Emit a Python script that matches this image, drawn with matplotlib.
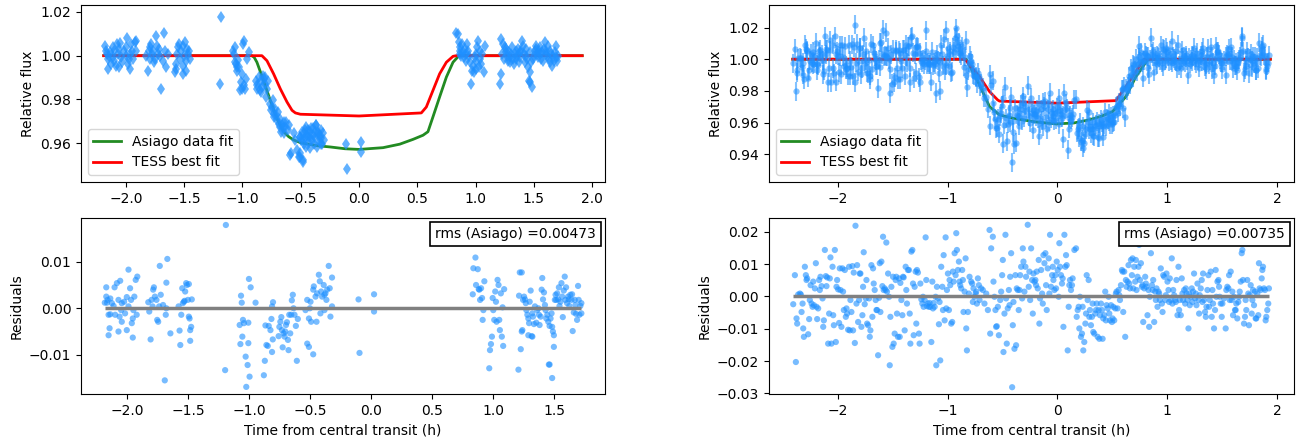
import matplotlib
matplotlib.use("Agg")

import matplotlib.pyplot as plt
import numpy as np
from matplotlib.offsetbox import AnchoredText

BLUE = "dodgerblue"
GREEN = "forestgreen"
XLABEL = "Time from central transit (h)"

# ---- left night: flux (diamonds) ----
T_FLUX_L = [
    -2.175, -2.170, -2.164, -2.155, -2.155, -2.141, -2.126, -2.112, -2.098, -2.083,
    -2.078, -2.069, -2.060, -2.049, -2.040, -2.032, -2.020, -2.003, -1.991, -1.983,
    -1.968, -1.963, -1.954, -1.940, -1.925, -1.917, -1.911, -1.997, -2.055, -2.112,
    -2.132, -2.098, -1.974, -1.945,
    -1.825, -1.810, -1.802, -1.790, -1.782, -1.773, -1.761, -1.753, -1.739, -1.733,
    -1.716, -1.710, -1.695, -1.681, -1.672, -1.667, -1.652, -1.638, -1.767, -1.727,
    -1.796,
    -1.580, -1.572, -1.560, -1.552, -1.543, -1.537, -1.523, -1.514, -1.509, -1.503,
    -1.494, -1.486, -1.480, -1.474, -1.466, -1.457, -1.451, -1.514, -1.566,
    -1.187, -1.193,
    -1.078, -1.069, -1.063, -1.055, -1.049, -1.043, -1.034, -1.026, -1.020, -1.014,
    -1.006, -0.997, -0.991, -0.986, -0.977, -0.968, -0.963, -0.940, -1.063, -1.006,
    -0.882, -0.876, -0.871, -0.862, -0.853, -0.848, -0.842, -0.833, -0.825, -0.819,
    -0.810, -0.805, -0.796, -0.790, -0.782, -0.761, -0.756, -0.747, -0.739, -0.733,
    -0.727, -0.718, -0.710, -0.704, -0.695, -0.690, -0.681, -0.675, -0.670, -0.661,
    -0.652, -0.647, -0.641, -0.632, -0.624, -0.612, -0.603, -0.595, -0.583, -0.560,
    -0.546, -0.532, -0.517, -0.509,
    -0.503, -0.489, -0.480, -0.474, -0.468, -0.460, -0.451, -0.445, -0.440, -0.431,
    -0.422, -0.417, -0.411, -0.402, -0.394, -0.388, -0.382, -0.374, -0.365, -0.359,
    -0.353, -0.345, -0.336, -0.330, -0.325, -0.316, -0.307, -0.302, -0.480, -0.509,
    -0.494, -0.466, -0.451, -0.437, -0.423, -0.394, -0.366, -0.351, -0.337, -0.323,
    -0.480, -0.509,
    -0.109, -0.103, 0.020, 0.020,
    0.834, 0.849, 0.857, 0.863, 0.869, 0.877, 0.886, 0.891, 0.897, 0.906,
    0.914, 0.920, 0.926, 0.934, 0.943, 0.949, 0.963, 0.971, 0.977, 0.983,
    0.991, 1.000, 1.006, 1.014, 1.020, 1.029, 1.034, 1.040, 1.049, 1.057,
    1.069, 1.077, 0.863, 1.000,
    1.206, 1.214, 1.220, 1.229, 1.234, 1.240, 1.249, 1.257, 1.263, 1.269,
    1.277, 1.286, 1.291, 1.297, 1.306, 1.314, 1.320, 1.326, 1.334, 1.343,
    1.349, 1.354, 1.363, 1.371, 1.377, 1.383, 1.391, 1.400, 1.406, 1.411,
    1.420, 1.429, 1.434, 1.440, 1.449, 1.457, 1.463, 1.469, 1.477, 1.486,
    1.491, 1.497, 1.506, 1.514, 1.520, 1.526, 1.534, 1.543, 1.549, 1.554,
    1.563, 1.571, 1.577, 1.583, 1.591, 1.600, 1.606, 1.611, 1.620, 1.629,
    1.634, 1.640, 1.649, 1.657, 1.663, 1.669, 1.677, 1.686, 1.691, 1.697,
    1.706, 1.463,
]
FLUX_L = [
    1.0045, 1.0023, 1.0008, 0.9985, 0.9939, 1.0000, 0.9962, 1.0038, 0.9977, 0.9955,
    1.0053, 1.0008, 0.9947, 1.0056, 0.9992, 0.9970, 1.0023, 1.0000, 1.0083, 0.9962,
    0.9939, 1.0008, 1.0053, 0.9985, 1.0061, 1.0023, 1.0068, 1.0038, 1.0030, 0.9992,
    1.0015, 1.0023, 0.9985, 1.0023,
    1.0000, 0.9932, 1.0023, 1.0038, 1.0053, 1.0008, 0.9970, 0.9985, 1.0091, 1.0045,
    1.0030, 1.0000, 0.9848, 0.9977, 1.0106, 1.0023, 0.9947, 1.0008, 1.0023, 1.0008,
    0.9985,
    0.9924, 0.9939, 1.0008, 1.0038, 1.0053, 0.9985, 1.0023, 0.9955, 1.0045, 1.0000,
    1.0061, 0.9977, 0.9932, 1.0030, 1.0008, 1.0023, 0.9985, 0.9917, 0.9962,
    1.0177, 0.9871,
    1.0023, 1.0008, 0.9970, 0.9962, 0.9947, 0.9932, 0.9980, 0.9947, 0.9841, 0.9879,
    0.9848, 1.0053, 1.0068, 0.9864, 0.9848, 0.9894, 0.9985, 1.0015, 1.0038, 0.9917,
    0.9886, 0.9848, 0.9864, 0.9902, 0.9841, 0.9879, 0.9833, 0.9856, 0.9909, 0.9894,
    0.9871, 0.9902, 0.9811, 0.9848, 0.9886, 0.9780, 0.9750, 0.9765, 0.9795, 0.9735,
    0.9720, 0.9758, 0.9727, 0.9705, 0.9742, 0.9689, 0.9674, 0.9712, 0.9652, 0.9682,
    0.9667, 0.9697, 0.9644, 0.9674, 0.9697, 0.9659, 0.9682, 0.9545, 0.9553, 0.9644,
    0.9614, 0.9568, 0.9538, 0.9629,
    0.9629, 0.9652, 0.9614, 0.9598, 0.9644, 0.9621, 0.9583, 0.9636, 0.9659, 0.9606,
    0.9629, 0.9576, 0.9667, 0.9614, 0.9636, 0.9598, 0.9652, 0.9621, 0.9682, 0.9583,
    0.9644, 0.9629, 0.9606, 0.9659, 0.9621, 0.9598, 0.9644, 0.9614, 0.9515, 0.9538,
    0.9614, 0.9659, 0.9674, 0.9629, 0.9652, 0.9667, 0.9682, 0.9652, 0.9636, 0.9598,
    0.9523, 0.9553,
    0.9595, 0.9480, 0.9606, 0.9561,
    1.0106, 1.0098, 1.0061, 1.0038, 1.0023, 1.0000, 1.0053, 1.0015, 0.9992, 1.0030,
    0.9977, 1.0008, 1.0053, 1.0023, 1.0000, 0.9970, 0.9871, 0.9932, 0.9955, 0.9924,
    0.9992, 0.9977, 1.0008, 1.0038, 1.0068, 0.9947, 0.9985, 1.0023, 0.9962, 1.0008,
    0.9924, 1.0045, 1.0008, 0.9939,
    0.9871, 0.9917, 1.0076, 1.0008, 1.0053, 0.9985, 1.0038, 1.0015, 1.0030, 1.0000,
    0.9977, 1.0015, 0.9992, 0.9970, 1.0008, 1.0038, 0.9985, 0.9962, 1.0008, 1.0023,
    0.9985, 1.0000, 1.0030, 0.9970, 0.9992, 1.0015, 1.0023, 1.0068, 1.0045, 1.0008,
    0.9970, 1.0000, 1.0030, 0.9985, 0.9947, 0.9886, 0.9924, 1.0015, 0.9970, 0.9856,
    0.9985, 1.0000, 1.0023, 1.0030, 1.0045, 1.0008, 0.9992, 1.0023, 1.0038, 1.0008,
    0.9985, 1.0015, 0.9977, 1.0030, 1.0061, 1.0008, 1.0023, 1.0000, 1.0045, 0.9985,
    0.9970, 1.0023, 1.0008, 0.9955, 1.0000, 0.9977, 1.0015, 0.9992, 1.0045, 0.9977,
    1.0000, 0.9879,
]

# ---- left night: residuals ----
T_RES_L = [
    -2.168, -2.168, -2.157, -2.162, -2.135, -2.149, -2.135, -2.149, -2.141, -2.122,
    -2.108, -2.100, -2.081, -2.068, -2.054, -2.059, -2.041, -2.046, -2.041, -2.022,
    -2.000, -1.986, -1.973, -1.965, -1.951, -1.959, -1.946, -1.938, -1.927, -1.914,
    -1.919, -1.951, -2.000, -2.068, -2.095, -2.014, -1.986, -2.180,
    -1.824, -1.816, -1.805, -1.797, -1.784, -1.778, -1.770, -1.757, -1.751, -1.743,
    -1.730, -1.722, -1.703, -1.681, -1.676, -1.668, -1.676, -1.643, -1.735, -1.789,
    -1.689,
    -1.576, -1.568, -1.562, -1.554, -1.546, -1.541, -1.532, -1.522, -1.514, -1.508,
    -1.500, -1.492, -1.486, -1.481, -1.481, -1.473, -1.468, -1.492, -1.527,
    -1.189, -1.195,
    -1.076, -1.070, -1.065, -1.059, -1.054, -1.049, -1.041, -1.027, -1.022, -1.011,
    -1.005, -1.000, -0.995, -1.005, -0.986, -0.946,
    -0.878, -0.870, -0.865, -0.857, -0.846, -0.838, -0.824, -0.816, -0.811, -0.805,
    -0.803, -0.811, -0.757, -0.751, -0.743, -0.735, -0.730, -0.724, -0.716, -0.708,
    -0.703, -0.697, -0.689, -0.681, -0.676, -0.670, -0.662, -0.654, -0.649, -0.641,
    -0.635, -0.627, -0.616, -0.608, -0.600,
    -0.537, -0.523, -0.509, -0.501, -0.496, -0.491, -0.474, -0.469, -0.455, -0.447,
    -0.442, -0.428, -0.420, -0.409, -0.401, -0.388, -0.382, -0.374, -0.366, -0.360,
    -0.347, -0.339, -0.333, -0.320, -0.320, -0.474, -0.523, -0.509, -0.415, -0.382,
    -0.103, -0.095, 0.024, 0.024,
    0.832, 0.837, 0.854, 0.873, 0.859, 0.881, 0.886, 0.900, 0.908, 0.919,
    0.913, 0.927, 0.892, 0.967, 0.973, 0.981, 0.989, 0.995, 1.000, 1.008,
    1.016, 1.022, 1.035, 1.043, 1.049, 1.054, 1.062, 1.070, 1.076, 1.081,
    1.089, 1.027,
    1.206, 1.211, 1.217, 1.225, 1.233, 1.233, 1.238, 1.244, 1.252, 1.260,
    1.266, 1.271, 1.279, 1.287, 1.293, 1.298, 1.306, 1.314, 1.320, 1.325,
    1.333, 1.341, 1.352, 1.360, 1.369, 1.374, 1.379, 1.388, 1.396, 1.401,
    1.407, 1.415, 1.423, 1.428, 1.434, 1.442, 1.450, 1.455, 1.461, 1.469,
    1.477, 1.482, 1.488, 1.496, 1.496, 1.504, 1.510, 1.515, 1.523, 1.531,
    1.537, 1.542, 1.550, 1.558, 1.564, 1.569, 1.577, 1.585, 1.591, 1.596,
    1.604, 1.612, 1.618, 1.623, 1.631, 1.640, 1.645, 1.650, 1.659, 1.667,
    1.672, 1.678, 1.686, 1.694, 1.699, 1.705, 1.713, 1.482, 1.461, 1.287,
    1.320, 1.721, 1.721,
]
RES_L = [
    0.0045, 0.0025, 0.0018, 0.0012, 0.0021, -0.0014, -0.0013, -0.0058, -0.0043, 0.0011,
    0.0005, 0.0045, 0.0054, 0.0018, 0.0059, -0.0018, -0.0029, -0.0004, 0.0011, 0.0014,
    0.0024, 0.0083, 0.0043, 0.0018, -0.0022, -0.0032, -0.0004, 0.0025, 0.0061, 0.0068,
    -0.0014, -0.0063, -0.0047, -0.0050, -0.0014, -0.0011, 0.0004, 0.0012,
    0.0013, -0.0007, -0.0067, 0.0018, 0.0040, 0.0045, 0.0025, 0.0018, -0.0025, -0.0029,
    0.0091, 0.0029, 0.0007, -0.0014, 0.0055, 0.0106, 0.0000, -0.0054, 0.0004, 0.0004,
    -0.0155,
    0.0004, -0.0048, -0.0079, -0.0014, 0.0043, 0.0011, 0.0014, 0.0036, 0.0054, 0.0050,
    0.0018, -0.0018, -0.0022, -0.0047, -0.0070, -0.0040, 0.0019, 0.0052, 0.0016,
    0.0179, -0.0133,
    -0.0036, -0.0077, 0.0027, 0.0012, -0.0061, -0.0025, -0.0032, -0.0104, -0.0169, -0.0122,
    -0.0075, 0.0063, -0.0147, -0.0031, 0.0045, 0.0012,
    -0.0144, -0.0113, -0.0037, -0.0079, -0.0081, -0.0038, -0.0047, -0.0023, 0.0004, -0.0067,
    0.0013, -0.0094, -0.0060, -0.0040, -0.0029, -0.0019, -0.0047, -0.0084, -0.0054, -0.0061,
    -0.0050, -0.0036, -0.0030, -0.0068, -0.0090, -0.0014, -0.0054, -0.0014, 0.0017, 0.0029,
    0.0000, -0.0014, -0.0038, -0.0113, -0.0023,
    -0.0004, 0.0018, -0.0022, 0.0000, 0.0014, -0.0029, 0.0040, 0.0047, 0.0025, -0.0029,
    0.0032, 0.0072, 0.0058, 0.0036, 0.0025, 0.0050, 0.0029, 0.0032, 0.0018, 0.0040,
    0.0091, 0.0043, -0.0018, 0.0066, 0.0004, -0.0099, -0.0076, -0.0083, -0.0011, -0.0004,
    0.0019, -0.0096, 0.0030, -0.0007,
    0.0030, 0.0086, 0.0109, 0.0084, 0.0050, 0.0041, 0.0040, 0.0043, 0.0022, -0.0004,
    -0.0025, 0.0058, 0.0018, -0.0129, -0.0090, -0.0077, -0.0061, 0.0022, -0.0004, -0.0025,
    0.0036, 0.0014, 0.0061, 0.0050, -0.0025, -0.0047, 0.0032, -0.0061, 0.0002, -0.0081,
    0.0041, -0.0029,
    -0.0132, 0.0027, 0.0077, -0.0088, 0.0077, -0.0050, -0.0047, 0.0018, 0.0025, 0.0019,
    0.0011, -0.0004, -0.0014, -0.0022, -0.0032, 0.0014, 0.0038, -0.0060, -0.0011, -0.0018,
    -0.0034, 0.0004, -0.0031, -0.0004, 0.0000, -0.0014, -0.0036, -0.0018, 0.0040, 0.0065,
    0.0019, 0.0034, 0.0007, -0.0004, -0.0022, -0.0014, -0.0029, -0.0121, -0.0038, -0.0022,
    -0.0011, -0.0040, -0.0050, -0.0058, -0.0083, 0.0018, 0.0029, 0.0018, 0.0032, 0.0019,
    0.0045, 0.0005, 0.0014, 0.0054, 0.0025, -0.0019, 0.0038, 0.0068, 0.0018, 0.0045,
    0.0011, 0.0025, 0.0019, 0.0005, 0.0029, 0.0018, 0.0030, -0.0049, -0.0009, 0.0018,
    0.0007, -0.0012, -0.0025, 0.0048, 0.0018, -0.0014, 0.0005, -0.0150, -0.0121, -0.0058,
    -0.0061, -0.0011, 0.0011,
]

# ---- left night: model curves ----
T_GREEN_L = [-2.19, -0.92, -0.90, -0.876, -0.819, -0.761, -0.704, -0.647, -0.603, -0.560,
             -0.503, -0.359, -0.244, -0.12, 0.0, 0.206, 0.349, 0.463, 0.549, 0.591,
             0.634, 0.691, 0.749, 0.806, 0.857, 1.914]
GREEN_L = [1.0, 1.0, 0.9993, 0.9970, 0.9886, 0.9795, 0.9712, 0.9652, 0.9629, 0.9614,
           0.9602, 0.9588, 0.9582, 0.9574, 0.9571, 0.9579, 0.9595, 0.9617, 0.9636, 0.9652,
           0.9720, 0.9811, 0.9902, 0.9970, 1.0, 1.0]
T_RED_L = [-2.19, -0.833, -0.79, -0.733, -0.675, -0.618, -0.575, -0.546, -0.503, 0.0,
           0.534, 0.577, 0.634, 0.691, 0.749, 0.806, 0.834, 1.914]
RED_L = [1.0, 1.0, 0.9977, 0.9917, 0.9848, 0.9788, 0.9750, 0.9738, 0.9732, 0.9724,
         0.9738, 0.9765, 0.9841, 0.9917, 0.9970, 0.9997, 1.0, 1.0]
RMS_L = "0.00473"

# ---- right night: times, residuals, flux ----
T_R = [
    -2.406, -2.391, -2.382, -2.376, -2.370, -2.361, -2.345, -2.336, -2.330, -2.321,
    -2.315, -2.309, -2.300, -2.291, -2.285, -2.279, -2.270, -2.261, -2.255, -2.248,
    -2.239, -2.230, -2.224, -2.218, -2.209, -2.200, -2.194, -2.188, -2.179, -2.170,
    -2.164, -2.158, -2.148, -2.139, -2.133, -2.127, -2.118, -2.109, -2.103, -2.097,
    -2.088, -2.079, -2.073, -2.067, -2.058, -2.048, -2.042, -2.036, -2.027, -2.018,
    -2.012, -2.006, -1.997, -1.988, -1.982, -1.976, -1.967, -1.958, -1.952, -1.945,
    -1.936, -1.927, -1.921, -1.915, -1.906, -1.897, -1.891, -1.885, -1.876, -1.867,
    -1.861, -1.855, -1.845, -1.839, -1.830, -1.824, -1.815, -1.806, -1.800, -1.794,
    -1.785, -1.776, -1.770, -1.764, -1.755, -1.745, -1.739, -1.733, -1.724, -1.715,
    -1.709, -1.703, -1.694, -1.685, -1.679, -1.673, -1.664, -1.655, -1.648, -1.642,
    -1.633, -1.624, -1.618, -1.612, -1.603, -1.594, -1.588, -1.582, -1.573, -1.564,
    -1.558, -1.552, -1.542, -1.533, -1.527, -1.521, -1.512, -1.503, -1.497, -1.491,
    -1.482, -1.473, -1.467, -1.461, -1.452, -1.442, -1.436, -1.430, -1.421, -1.412,
    -1.406, -1.400, -1.391, -1.382, -1.376, -1.370, -1.361, -1.352, -1.345, -1.339,
    -1.330, -1.321, -1.315, -1.309, -1.300, -1.291, -1.285, -1.279, -1.270, -1.261,
    -1.255, -1.248, -1.239, -1.230, -1.224, -1.218, -1.209, -1.200, -1.194, -1.188,
    -1.179, -1.170, -1.164, -1.158, -1.148, -1.139, -1.133, -1.127, -1.118, -1.109,
    -1.103, -1.097, -1.088, -1.079, -1.073, -1.067, -1.058, -1.048, -1.042, -1.036,
    -1.027, -1.018, -1.012, -1.006, -0.997, -0.988, -0.982, -0.976, -0.967, -0.958,
    -0.952, -0.945, -0.936, -0.927, -0.921, -0.915, -0.906, -0.897, -0.891, -0.885,
    -0.876, -0.867, -0.861, -0.855, -0.845, -0.836, -0.830, -0.824, -0.815, -0.806,
    -0.800, -0.785, -0.776, -0.770, -0.764, -0.755, -0.745, -0.739, -0.733, -0.724,
    -0.715,
    -0.709, -0.694, -0.679, -0.664, -0.648, -0.633, -0.618, -0.612, -0.603, -0.588,
    -0.582, -0.573, -0.564, -0.558, -0.552, -0.542, -0.533, -0.521, -0.512, -0.503,
    -0.497, -0.491, -0.482, -0.473, -0.467, -0.461, -0.452, -0.442, -0.436, -0.430,
    -0.421, -0.412, -0.406, -0.400, -0.391, -0.382, -0.376, -0.370, -0.361, -0.352,
    -0.345, -0.339, -0.330, -0.321, -0.315, -0.309, -0.300, -0.291, -0.285, -0.270,
    -0.261, -0.255, -0.248, -0.239, -0.230, -0.224, -0.218, -0.209, -0.200, -0.194,
    -0.188, -0.179, -0.170, -0.164, -0.158, -0.148, -0.139, -0.133, -0.127, -0.118,
    -0.109, -0.103, -0.097, -0.088, -0.079, -0.073, -0.067, -0.058, -0.048, -0.042,
    -0.036, -0.027, -0.018, -0.012, -0.006, 0.003, 0.012, 0.018, 0.024, 0.033,
    0.042, 0.048, 0.055, 0.064, 0.073, 0.079, 0.085, 0.094, 0.103, 0.109,
    0.115, 0.124, 0.133, 0.139, 0.155, 0.170, 0.176, 0.185, 0.194, 0.200,
    0.206, 0.215, 0.224, 0.230, 0.236, 0.245, 0.255, 0.261, 0.267, 0.276,
    0.285, 0.291, 0.297, 0.306, 0.315, 0.321, 0.327, 0.336, 0.345, 0.352,
    0.358, 0.367, 0.376, 0.382, 0.388, 0.397, 0.406, 0.412, 0.418, 0.427,
    0.436, 0.442, 0.448, 0.458, 0.467, 0.473, 0.479, 0.488, 0.497, 0.503,
    0.509, 0.518, 0.527, 0.533, 0.539, 0.548, 0.558, 0.564, 0.570, 0.579,
    0.588, 0.594, 0.600, 0.609, 0.618, 0.624, 0.630, 0.639, 0.648, 0.655,
    0.661, 0.670, 0.679, 0.685, 0.691, 0.700, 0.709, 0.715, 0.721, 0.730,
    0.739, 0.745, 0.752, 0.761, 0.770, 0.776, 0.782, 0.791, 0.800, 0.806,
    0.812, 0.821, 0.830, 0.836, 0.842, 0.852, 0.861, 0.867, 0.873, 0.882,
    0.891, 0.897, 0.903, 0.912, 0.921, 0.927, 0.933, 0.942, 0.952, 0.958,
    0.964, 0.973, 0.982, 0.988, 0.994, 1.003, 1.012, 1.018, 1.024, 1.033,
    1.042, 1.048, 1.055, 1.064, 1.073, 1.079, 1.085, 1.094, 1.103, 1.109,
    1.115, 1.124, 1.133, 1.139, 1.145, 1.155, 1.164, 1.170, 1.176, 1.185,
    1.194, 1.200, 1.206, 1.215, 1.224, 1.230, 1.236, 1.245, 1.255, 1.261,
    1.267, 1.276, 1.285, 1.291, 1.297, 1.306, 1.315, 1.321, 1.327, 1.336,
    1.345, 1.352, 1.358, 1.367, 1.376, 1.382, 1.388, 1.397, 1.406, 1.412,
    1.418, 1.427, 1.436, 1.442, 1.448, 1.458, 1.467, 1.473, 1.479, 1.488,
    1.497, 1.503, 1.518, 1.533, 1.539, 1.548, 1.558, 1.564, 1.570, 1.579,
    1.588, 1.594, 1.600, 1.609, 1.618, 1.624, 1.630, 1.639, 1.648, 1.655,
    1.661, 1.670, 1.679, 1.685, 1.691, 1.700, 1.709, 1.715, 1.721, 1.730,
    1.739, 1.745, 1.752, 1.761, 1.770, 1.776, 1.782, 1.791, 1.800, 1.806,
    1.812, 1.821, 1.830, 1.836, 1.842, 1.852, 1.861, 1.867, 1.873, 1.882,
    1.891, 1.897, 1.903, 1.912, 1.921, 1.927,
]
RES_R = [
    -0.0024, 0.0066, -0.0203, -0.0068, -0.0084, 0.0006, 0.0009, 0.0006, -0.0048, -0.0022,
    -0.0099, -0.0125, 0.0092, 0.0066, 0.0051, 0.0056, -0.0117, -0.0070, -0.0011, 0.0035,
    -0.0022, -0.0032, 0.0046, -0.0027, 0.0025, 0.0103, -0.0032, -0.0070, -0.0037, 0.0051,
    0.0020, 0.0061, 0.0032, -0.0006, -0.0094, -0.0074, 0.0144, 0.0063, 0.0032, 0.0059,
    -0.0146, -0.0053, 0.0056, 0.0121, -0.0146, 0.0092, -0.0058, -0.0089, 0.0144, -0.0141,
    0.0030, 0.0051, 0.0022, -0.0082, 0.0087, 0.0020, -0.0094, 0.0087, 0.0015, -0.0042,
    0.0082, -0.0063, -0.0037, -0.0053, -0.0103, 0.0092, -0.0105, -0.0011, -0.0048, 0.0094,
    -0.0105, 0.0074, -0.0144, 0.0219, -0.0022, 0.0097, -0.0079, -0.0011, 0.0071, 0.0071,
    -0.0094, -0.0058, 0.0030, 0.0137, -0.0024, -0.0006, 0.0051, -0.0084, -0.0089, -0.0006,
    -0.0125, -0.0105, 0.0097, -0.0063, 0.0087, 0.0040, 0.0020, -0.0011, -0.0042, -0.0042,
    -0.0182, -0.0004, 0.0103, -0.0048, 0.0108, 0.0032, 0.0185, 0.0020, 0.0025, 0.0020,
    0.0167, 0.0015, 0.0071, -0.0001, -0.0213, -0.0063, 0.0030, -0.0156, 0.0061, -0.0146,
    -0.0115, 0.0051, 0.0061, -0.0053, -0.0125, 0.0056, -0.0125, 0.0042, -0.0011, -0.0058,
    0.0061, 0.0059, -0.0105, 0.0092, 0.0020, -0.0022, 0.0082, 0.0082, -0.0053, -0.0146,
    0.0139, 0.0144, 0.0040, -0.0120, 0.0030, 0.0077, -0.0084, 0.0082, 0.0074, -0.0115,
    -0.0146, 0.0040, -0.0009, -0.0022, -0.0001, -0.0032, -0.0011, 0.0183, 0.0051, -0.0030,
    -0.0022, -0.0032, -0.0020, -0.0032, -0.0141, 0.0046, -0.0037, -0.0020, -0.0032, -0.0001,
    -0.0213, 0.0030, -0.0006, -0.0086, -0.0017, -0.0198, 0.0092, 0.0030, -0.0042, 0.0128,
    -0.0074, 0.0183, -0.0037, 0.0020, 0.0071, -0.0042, 0.0051, 0.0035, -0.0084, -0.0079,
    0.0077, 0.0046, 0.0134, 0.0066, 0.0196, 0.0144, 0.0082, 0.0108, 0.0046, 0.0035,
    0.0025, 0.0082, 0.0051, -0.0048, 0.0015, 0.0118, -0.0099, -0.0167, -0.0048, 0.0009,
    0.0061, 0.0046, 0.0040, -0.0017, 0.0025, -0.0001, 0.0009, 0.0015, -0.0022, 0.0056,
    0.0035,
    -0.0011, 0.0025, 0.0020, -0.0022, 0.0009, -0.0042, 0.0206, -0.0115, 0.0149, 0.0185,
    0.0046, -0.0001, -0.0042, -0.0094, -0.0092, -0.0032, -0.0120, -0.0011, 0.0015, 0.0066,
    0.0113, -0.0172, -0.0053, 0.0191, -0.0006, -0.0146, -0.0037, 0.0020, -0.0027, 0.0061,
    0.0134, -0.0281, -0.0089, -0.0017, -0.0162, 0.0066, -0.0151, 0.0025, 0.0020, -0.0042,
    0.0020, 0.0066, 0.0092, -0.0006, 0.0149, 0.0108, 0.0015, 0.0092, 0.0061, 0.0222,
    0.0030, 0.0077, -0.0011, 0.0149, 0.0051, -0.0053, 0.0071, 0.0046, 0.0051, 0.0035,
    0.0077, 0.0025, 0.0113, -0.0084, -0.0006, 0.0082, 0.0009, -0.0022, 0.0128, 0.0103,
    0.0134, 0.0035, -0.0042, 0.0087, 0.0118, 0.0009, 0.0191, 0.0030, 0.0066, 0.0092,
    0.0051, 0.0020, 0.0066, 0.0025, 0.0108, 0.0082, -0.0001, 0.0165, 0.0092, 0.0066,
    0.0040, 0.0056, -0.0094, 0.0191, 0.0092, 0.0128, 0.0097, -0.0167, -0.0032, 0.0035,
    0.0051, 0.0020, 0.0035, 0.0056, 0.0144, 0.0149, -0.0063, -0.0042, -0.0032, -0.0099,
    -0.0001, -0.0125, -0.0115, -0.0032, -0.0167, -0.0141, -0.0084, -0.0053, 0.0066, -0.0011,
    0.0051, -0.0063, -0.0042, -0.0089, -0.0063, -0.0022, -0.0110, -0.0115, -0.0053, -0.0042,
    -0.0022, -0.0125, -0.0042, -0.0131, -0.0058, -0.0022, -0.0042, -0.0131, -0.0068, -0.0058,
    0.0015, -0.0074, -0.0027, -0.0037, -0.0001, -0.0053, -0.0074, -0.0027, -0.0079, -0.0068,
    -0.0032, -0.0074, -0.0037, 0.0009, 0.0015, -0.0037, 0.0020, 0.0004, -0.0011, 0.0035,
    0.0082, 0.0077, -0.0048, 0.0077, -0.0125, 0.0051, 0.0030, 0.0046, 0.0097, 0.0040,
    0.0025, 0.0113, 0.0066, 0.0118, 0.0025, 0.0092, 0.0046, 0.0113, 0.0020, 0.0061,
    0.0092, 0.0160, 0.0051, 0.0103, 0.0030, 0.0035, -0.0079, 0.0025, 0.0061, 0.0040,
    0.0030, -0.0058, 0.0020, -0.0094, -0.0001, 0.0134, 0.0035, 0.0020, 0.0051, -0.0079,
    0.0015, -0.0011, 0.0025, -0.0032, 0.0015, 0.0009, -0.0011, 0.0087, -0.0022, -0.0048,
    0.0066, 0.0061, -0.0011, 0.0004, 0.0071, 0.0046, 0.0020, -0.0017, 0.0056, -0.0011,
    0.0118, -0.0022, 0.0020, 0.0004, -0.0011, -0.0017, 0.0051, -0.0058, 0.0092, -0.0042,
    -0.0011, -0.0058, 0.0056, 0.0009, -0.0011, 0.0020, -0.0022, 0.0025, 0.0009, -0.0011,
    -0.0099, 0.0009, -0.0027, -0.0001, 0.0025, -0.0017, 0.0015, 0.0071, -0.0006, 0.0009,
    -0.0027, 0.0040, -0.0011, -0.0053, 0.0004, 0.0025, 0.0051, -0.0017, 0.0071, -0.0011,
    -0.0048, -0.0063, -0.0032, 0.0020, 0.0066, -0.0032, -0.0011, 0.0077, -0.0063, 0.0020,
    -0.0022, -0.0099, -0.0042, 0.0082, -0.0001, 0.0046, 0.0051, 0.0030, -0.0001, -0.0022,
    -0.0063, -0.0022, -0.0006, -0.0099, 0.0020, 0.0030, 0.0025, 0.0066, -0.0011, 0.0077,
    -0.0011, 0.0015, -0.0058, -0.0001, -0.0042, -0.0042, -0.0022, -0.0068, -0.0017, -0.0001,
    0.0015, 0.0046, 0.0134, 0.0144, 0.0051, -0.0084, -0.0063, -0.0011, -0.0042, 0.0051,
    0.0009, -0.0089, 0.0004, 0.0035, -0.0053, -0.0011, 0.0020, -0.0027, 0.0015, -0.0068,
    -0.0068, 0.0009, -0.0058, 0.0103, 0.0025, 0.0020, 0.0056, 0.0082, 0.0092, 0.0025,
    0.0020, -0.0074, -0.0063, -0.0042, -0.0022, 0.0025,
]
FLUX_R = [
    0.9976, 1.0066, 0.9797, 0.9932, 0.9916, 1.0006, 1.0009, 1.0006, 0.9952, 0.9978,
    0.9901, 0.9875, 1.0092, 1.0066, 1.0051, 1.0056, 0.9883, 0.9930, 0.9989, 1.0035,
    0.9978, 0.9968, 1.0046, 0.9973, 1.0025, 1.0103, 0.9968, 0.9930, 0.9963, 1.0051,
    1.0020, 1.0061, 1.0032, 0.9994, 0.9906, 0.9926, 1.0144, 1.0063, 1.0032, 1.0059,
    0.9854, 0.9947, 1.0056, 1.0121, 0.9854, 1.0092, 0.9942, 0.9911, 1.0144, 0.9859,
    1.0030, 1.0051, 1.0022, 0.9918, 1.0087, 1.0020, 0.9906, 1.0087, 1.0015, 0.9958,
    1.0082, 0.9937, 0.9963, 0.9947, 0.9897, 1.0092, 0.9895, 0.9989, 0.9952, 1.0094,
    0.9895, 1.0074, 0.9856, 1.0219, 0.9978, 1.0097, 0.9921, 0.9989, 1.0071, 1.0071,
    0.9906, 0.9942, 1.0030, 1.0137, 0.9976, 0.9994, 1.0051, 0.9916, 0.9911, 0.9994,
    0.9875, 0.9895, 1.0097, 0.9937, 1.0087, 1.0040, 1.0020, 0.9989, 0.9958, 0.9958,
    0.9818, 0.9996, 1.0103, 0.9952, 1.0108, 1.0032, 1.0185, 1.0020, 1.0025, 1.0020,
    1.0167, 1.0015, 1.0071, 0.9999, 0.9787, 0.9937, 1.0030, 0.9844, 1.0061, 0.9854,
    0.9885, 1.0051, 1.0061, 0.9947, 0.9875, 1.0056, 0.9875, 1.0042, 0.9989, 0.9942,
    1.0061, 1.0059, 0.9895, 1.0092, 1.0020, 0.9978, 1.0082, 1.0082, 0.9947, 0.9854,
    1.0139, 1.0144, 1.0040, 0.9880, 1.0030, 1.0077, 0.9916, 1.0082, 1.0074, 0.9885,
    0.9854, 1.0040, 0.9991, 0.9978, 0.9999, 0.9968, 0.9989, 1.0183, 1.0051, 0.9970,
    0.9978, 0.9968, 0.9980, 0.9968, 0.9859, 1.0046, 0.9963, 0.9980, 0.9968, 0.9999,
    0.9787, 1.0030, 0.9994, 0.9914, 0.9983, 0.9802, 1.0092, 1.0030, 0.9958, 1.0128,
    0.9926, 1.0183, 0.9963, 1.0020, 1.0071, 0.9958, 1.0051, 1.0035, 0.9916, 0.9921,
    1.0077, 1.0046, 1.0134, 1.0066, 1.0196, 1.0144, 1.0082, 1.0108, 1.0046, 1.0035,
    1.0025, 1.0082, 1.0051, 0.9952, 1.0015, 1.0118, 0.9901, 0.9823, 0.9932, 0.9979,
    1.0021, 0.9991, 0.9970, 0.9903, 0.9935, 0.9899, 0.9889, 0.9885, 0.9848, 0.9916,
    0.9885,
    0.9829, 0.9845, 0.9820, 0.9758, 0.9759, 0.9688, 0.9906, 0.9580, 0.9839, 0.9865,
    0.9721, 0.9669, 0.9623, 0.9566, 0.9568, 0.9623, 0.9530, 0.9639, 0.9660, 0.9706,
    0.9753, 0.9468, 0.9587, 0.9826, 0.9629, 0.9484, 0.9593, 0.9650, 0.9603, 0.9691,
    0.9764, 0.9349, 0.9541, 0.9611, 0.9465, 0.9692, 0.9474, 0.9650, 0.9644, 0.9580,
    0.9640, 0.9686, 0.9712, 0.9612, 0.9766, 0.9724, 0.9630, 0.9706, 0.9674, 0.9834,
    0.9640, 0.9687, 0.9599, 0.9758, 0.9659, 0.9554, 0.9678, 0.9652, 0.9656, 0.9640,
    0.9681, 0.9629, 0.9716, 0.9519, 0.9597, 0.9684, 0.9611, 0.9579, 0.9729, 0.9703,
    0.9734, 0.9635, 0.9557, 0.9685, 0.9715, 0.9606, 0.9787, 0.9625, 0.9661, 0.9686,
    0.9645, 0.9613, 0.9658, 0.9617, 0.9698, 0.9672, 0.9589, 0.9755, 0.9682, 0.9656,
    0.9630, 0.9648, 0.9498, 0.9784, 0.9685, 0.9722, 0.9691, 0.9428, 0.9563, 0.9631,
    0.9647, 0.9617, 0.9633, 0.9654, 0.9744, 0.9749, 0.9537, 0.9560, 0.9571, 0.9505,
    0.9604, 0.9481, 0.9493, 0.9578, 0.9443, 0.9470, 0.9528, 0.9560, 0.9680, 0.9605,
    0.9669, 0.9557, 0.9578, 0.9533, 0.9561, 0.9603, 0.9516, 0.9513, 0.9577, 0.9588,
    0.9610, 0.9509, 0.9594, 0.9506, 0.9580, 0.9618, 0.9600, 0.9512, 0.9577, 0.9590,
    0.9665, 0.9578, 0.9627, 0.9620, 0.9659, 0.9609, 0.9590, 0.9639, 0.9590, 0.9602,
    0.9643, 0.9606, 0.9648, 0.9699, 0.9708, 0.9663, 0.9727, 0.9716, 0.9705, 0.9758,
    0.9812, 0.9812, 0.9692, 0.9827, 0.9635, 0.9817, 0.9805, 0.9831, 0.9892, 0.9845,
    0.9840, 0.9943, 0.9906, 0.9968, 0.9885, 0.9962, 0.9926, 1.0003, 0.9920, 0.9971,
    1.0012, 1.0085, 0.9983, 1.0045, 0.9980, 0.9991, 0.9883, 0.9995, 1.0041, 1.0025,
    1.0020, 0.9942, 1.0020, 0.9906, 0.9999, 1.0134, 1.0035, 1.0020, 1.0051, 0.9921,
    1.0015, 0.9989, 1.0025, 0.9968, 1.0015, 1.0009, 0.9989, 1.0087, 0.9978, 0.9952,
    1.0066, 1.0061, 0.9989, 1.0004, 1.0071, 1.0046, 1.0020, 0.9983, 1.0056, 0.9989,
    1.0118, 0.9978, 1.0020, 1.0004, 0.9989, 0.9983, 1.0051, 0.9942, 1.0092, 0.9958,
    0.9989, 0.9942, 1.0056, 1.0009, 0.9989, 1.0020, 0.9978, 1.0025, 1.0009, 0.9989,
    0.9901, 1.0009, 0.9973, 0.9999, 1.0025, 0.9983, 1.0015, 1.0071, 0.9994, 1.0009,
    0.9973, 1.0040, 0.9989, 0.9947, 1.0004, 1.0025, 1.0051, 0.9983, 1.0071, 0.9989,
    0.9952, 0.9937, 0.9968, 1.0020, 1.0066, 0.9968, 0.9989, 1.0077, 0.9937, 1.0020,
    0.9978, 0.9901, 0.9958, 1.0082, 0.9999, 1.0046, 1.0051, 1.0030, 0.9999, 0.9978,
    0.9937, 0.9978, 0.9994, 0.9901, 1.0020, 1.0030, 1.0025, 1.0066, 0.9989, 1.0077,
    0.9989, 1.0015, 0.9942, 0.9999, 0.9958, 0.9958, 0.9978, 0.9932, 0.9983, 0.9999,
    1.0015, 1.0046, 1.0134, 1.0144, 1.0051, 0.9916, 0.9937, 0.9989, 0.9958, 1.0051,
    1.0009, 0.9911, 1.0004, 1.0035, 0.9947, 0.9989, 1.0020, 0.9973, 1.0015, 0.9932,
    0.9932, 1.0009, 0.9942, 1.0103, 1.0025, 1.0020, 1.0056, 1.0082, 1.0092, 1.0025,
    1.0020, 0.9926, 0.9937, 0.9958, 0.9978, 1.0025,
]
FLUX_ERR_R = 0.006

T_GREEN_R = [-2.41, -0.83, -0.709, -0.618, -0.527, -0.406, -0.2, -0.012, 0.15, 0.291,
             0.4, 0.503, 0.624, 0.715, 0.821, 0.84, 1.94]
GREEN_R = [1.0, 1.0, 0.9838, 0.9701, 0.9649, 0.9628, 0.9605, 0.9592, 0.9598, 0.9618,
           0.9640, 0.9670, 0.9764, 0.9890, 0.9996, 1.0, 1.0]
T_RED_R = [-2.41, -0.843, -0.709, -0.618, -0.545, -0.527, 0.0, 0.533, 0.624, 0.715,
           0.79, 1.94]
RED_R = [1.0, 1.0, 0.9890, 0.9796, 0.9744, 0.9736, 0.9723, 0.9739, 0.9827, 0.9922,
         1.0, 1.0]
RMS_R = "0.00735"


def draw_models(ax, tg, g, tr, r):
    ax.plot(tg, g, color=GREEN, lw=2, label="Asiago data fit", zorder=1)
    ax.plot(tr, r, color="red", lw=2, label="TESS best fit", zorder=1.5)
    ax.legend(loc="lower left", fontsize=10)
    ax.set_ylabel("Relative flux")


def draw_resid(ax, t, res, rms):
    ax.scatter(t, res, s=20, color=BLUE, alpha=0.6, edgecolors="none", zorder=2)
    ax.hlines(0, min(t), max(t), color="gray", lw=2.5, zorder=3)
    box = AnchoredText(f"rms (Asiago) ={rms}", loc="upper right", prop=dict(size=10),
                       borderpad=0.3, pad=0.35)
    box.patch.set_linewidth(1.2)
    ax.add_artist(box)
    ax.set_ylabel("Residuals")
    ax.set_xlabel(XLABEL)


fig = plt.figure(figsize=(13.04, 4.46), dpi=100)
ax_lt = fig.add_axes([0.0621, 0.592, 0.4019, 0.3968])
ax_lb = fig.add_axes([0.0621, 0.1166, 0.4019, 0.3946])
ax_rt = fig.add_axes([0.5897, 0.592, 0.4026, 0.3968])
ax_rb = fig.add_axes([0.5897, 0.1166, 0.4026, 0.3946])

# left night
draw_models(ax_lt, T_GREEN_L, GREEN_L, T_RED_L, RED_L)
ax_lt.plot(T_FLUX_L, FLUX_L, "d", color=BLUE, alpha=0.7, ms=6, mew=0, zorder=2)
ax_lt.set_xlim(-2.385, 2.11)
ax_lt.set_ylim(0.9422, 1.0232)
ax_lt.set_xticks(np.arange(-2.0, 2.01, 0.5))
ax_lt.set_yticks([0.96, 0.98, 1.00, 1.02])

draw_resid(ax_lb, T_RES_L, RES_L, RMS_L)
ax_lb.set_xlim(-2.375, 1.915)
ax_lb.set_ylim(-0.01843, 0.0194)
ax_lb.set_xticks(np.arange(-2.0, 1.51, 0.5))
ax_lb.set_yticks([-0.01, 0.0, 0.01])

# right night
draw_models(ax_rt, T_GREEN_R, GREEN_R, T_RED_R, RED_R)
ax_rt.errorbar(T_R, FLUX_R, yerr=FLUX_ERR_R, fmt="o", color=BLUE, alpha=0.55,
               ms=4.5, mew=0, elinewidth=1.5, capsize=0, zorder=2)
ax_rt.set_xlim(-2.627, 2.155)
ax_rt.set_ylim(0.9226, 1.0342)
ax_rt.set_xticks([-2, -1, 0, 1, 2])
ax_rt.set_yticks([0.94, 0.96, 0.98, 1.00, 1.02])

draw_resid(ax_rb, T_R, RES_R, RMS_R)
ax_rb.set_xlim(-2.627, 2.155)
ax_rb.set_ylim(-0.0302, 0.0243)
ax_rb.set_xticks([-2, -1, 0, 1, 2])
ax_rb.set_yticks([-0.03, -0.02, -0.01, 0.0, 0.01, 0.02])

fig.savefig("out.png", dpi=100)
